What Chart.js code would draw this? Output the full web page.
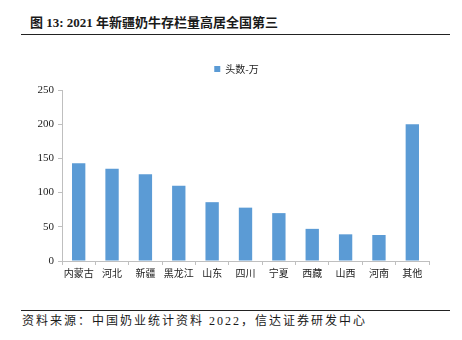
<!doctype html>
<html lang="zh">
<head>
<meta charset="utf-8">
<title>2021年新疆奶牛存栏量高居全国第三</title>
<style>
  * { margin: 0; padding: 0; }
  body { width: 462px; height: 340px; background: #fff; position: relative; overflow: hidden; }
  .title {
    position: absolute; left: 30px; top: 12px;
    font: bold 13px "Liberation Serif", "Noto Sans CJK SC", serif; color: #1a1a1a;
  }
  .rule { position: absolute; left: 21px; width: 429px; height: 1px; background: #222; }
  .source {
    position: absolute; left: 22px; top: 311px; letter-spacing: 2px;
    font: 12px "Liberation Serif", "Noto Sans CJK SC", serif; color: #1a1a1a;
  }
  .chartBox { position: absolute; left: 0; top: 40px; width: 462px; height: 260px; }
</style>
</head>
<body>
<div class="title">图 13: 2021 年新疆奶牛存栏量高居全国第三</div>
<div class="rule" style="top:34px"></div>
<div class="chartBox"><canvas id="myChart"></canvas></div>
<div class="rule" style="top:310px"></div>
<div class="source">资料来源：中国奶业统计资料 2022，信达证券研发中心</div>
<script src="https://cdn.jsdelivr.net/npm/chart.js"></script>
<script>
  // data
  const regions = ['内蒙古', '河北', '新疆', '黑龙江', '山东', '四川', '宁夏', '西藏', '山西', '河南', '其他'];
  const headCount = [143, 135, 127, 110, 86, 78, 70, 47, 39, 38, 200];
  const yTicks = [0, 50, 100, 150, 200, 250];

  const axisGrey = '#bfbfbf';

  // push the plot down a little under the legend, and nudge the legend right
  const legendTweak = {
    id: 'legendTweak',
    afterInit(chart) {
      const fit = chart.legend.fit;
      chart.legend.fit = function () { fit.call(this); this.height += 6; };
    },
    afterLayout(chart) {
      chart.legend.left += 22;
      chart.legend.right += 22;
    }
  };

  new Chart(document.getElementById('myChart'), {
    type: 'bar',
    data: {
      labels: regions,
      datasets: [{
        label: '头数-万',
        data: headCount,
        backgroundColor: '#5b9bd5',
        barPercentage: 0.4,
        categoryPercentage: 1
      }]
    },
    options: {
      responsive: true,
      maintainAspectRatio: false,
      animation: false,
      layout: { padding: { left: 0, right: 33, top: 6, bottom: 19 } },
      plugins: {
        legend: {
          labels: {
            boxWidth: 6, boxHeight: 6, color: '#222',
            font: { family: '"Noto Sans CJK SC", sans-serif', size: 10 },
            padding: 18
          }
        },
        tooltip: { enabled: false }
      },
      scales: {
        x: {
          grid: { drawOnChartArea: false, color: axisGrey, tickLength: 4 },
          border: { color: axisGrey },
          ticks: {
            color: '#222', padding: 2, maxRotation: 0,
            font: { family: '"Noto Sans CJK SC", serif', size: 10 }
          }
        },
        y: {
          min: 0, max: 250,
          afterBuildTicks: s => { s.ticks = yTicks.map(v => ({ value: v })); },
          afterFit: s => { s.width = 62; },
          grid: { drawOnChartArea: false, color: axisGrey, tickLength: 4 },
          border: { color: axisGrey },
          ticks: {
            color: '#222', padding: 4,
            font: { family: '"Liberation Serif", serif', size: 11 }
          }
        }
      }
    },
    plugins: [legendTweak]
  });
</script>
</body>
</html>
